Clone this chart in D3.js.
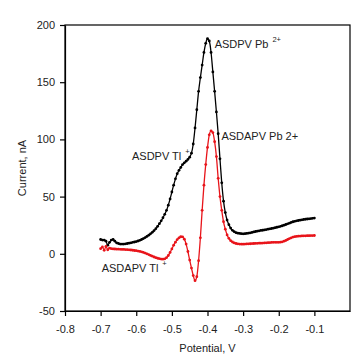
<!DOCTYPE html>
<html><head><meta charset="utf-8">
<script src="https://cdn.jsdelivr.net/npm/d3@7"></script>
<style>
html,body{margin:0;padding:0;background:#fff;}
text{font-family:"Liberation Sans",Arial,sans-serif;}
</style></head>
<body><svg id="c" width="352" height="354"></svg>
<script>
const potentialStart = -0.700;
const potentialStep = 0.005;
const asdpvCurrent = [12.5,12,12,11,7.5,10,12,12.5,11,9.5,9,8.5,8.5,8.5,8.7,9,9.3,9.6,10,10.3,10.7,11.2,11.8,12.5,13.3,14.2,15.2,16.3,17.5,18.8,20.3,22,24,26.3,28.8,31.5,34.5,38,42.5,48,54,60,65.5,70,73,75.5,78,79.5,81,82.5,84.5,88,96,110,126,142,154,165,176,184,188,186,176,159,142,124,105,83,62,46,36,29.5,25.5,22.5,20.5,19.3,18.5,18,17.8,17.6,17.5,17.6,17.8,18,18.3,18.7,19.1,19.5,19.8,20.1,20.4,20.6,20.9,21.2,21.5,21.8,22.1,22.4,22.8,23.2,23.6,24,24.5,25,25.6,26.2,26.8,27.4,28,28.4,28.8,29.1,29.4,29.7,30,30.2,30.4,30.6,30.8,31,31.2];
const asdapvCurrent = [4.5,6,3,6.5,3.5,5,4.5,4.3,4.2,4,4,3.9,3.8,3.8,3.7,3.6,3.5,3.3,3.1,2.9,2.7,2.4,2.1,1.7,1.2,0.6,0,-0.7,-1.4,-2.1,-2.8,-3.4,-3.9,-4.3,-4.6,-4.7,-4.4,-3.4,-1.5,1.2,4.3,7.5,10.2,12.4,14,14.9,14.8,12.8,8.5,2,-5.5,-12.5,-19,-23.5,-20,-6,14,38,60,78,93,104,107.5,106,98,85,66,50,38,28,21.5,16.5,13.5,11.5,10.3,9.5,9,8.7,8.5,8.4,8.4,8.5,8.6,8.7,8.8,8.9,9,9.1,9.2,9.3,9.3,9.4,9.5,9.6,9.7,9.8,9.9,10,10,10,10,10.2,10.5,11,11.7,12.5,13.3,14,14.6,15,15.2,15.4,15.5,15.6,15.7,15.7,15.8,15.8,15.9,15.9,16];
const xTicks = [-0.8,-0.7,-0.6,-0.5,-0.4,-0.3,-0.2,-0.1];
const yTicks = [-50,0,50,100,150,200];
const labels = [
  {text:"ASDPV Pb", sup:"2+", v:-0.380, i:180},
  {text:"ASDAPV Pb 2+", sup:"", v:-0.361, i:99.5},
  {text:"ASDPV Tl", sup:"+", v:-0.612, i:82},
  {text:"ASDAPV Tl", sup:"+", v:-0.697, i:-15.7}
];

const svg = d3.select("#c");
const m = {l:65, r:350, t:25, b:311};
const x = d3.scaleLinear().domain([-0.8,0]).range([m.l,m.r]);
const y = d3.scaleLinear().domain([-50,200]).range([m.b,m.t]);

const mk = arr => arr.map((c,k)=>({v:potentialStart+k*potentialStep, c}));
const seriesList = [
  {data:mk(asdpvCurrent), color:"#000"},
  {data:mk(asdapvCurrent), color:"#e8141a"}
];

svg.append("rect").attr("x",m.l).attr("y",m.t).attr("width",m.r-m.l).attr("height",m.b-m.t)
  .attr("fill","none").attr("stroke","#000").attr("stroke-width",1.2);

const hy = f => d => f(d).replace("\u2212","-");
const xa = svg.append("g").attr("transform",`translate(0,${m.b})`)
  .call(d3.axisBottom(x).tickValues(xTicks).tickFormat(hy(d3.format(".1f"))).tickSize(5).tickPadding(9).tickSizeOuter(0));
const ya = svg.append("g").attr("transform",`translate(${m.l},0)`)
  .call(d3.axisLeft(y).tickValues(yTicks).tickFormat(hy(d3.format("d"))).tickSize(5).tickPadding(5).tickSizeOuter(0));
[xa,ya].forEach(a=>{
  a.selectAll("path").attr("stroke","#000").attr("stroke-width",1.2);
  a.selectAll("line").attr("stroke","#000").attr("stroke-width",1.2);
  a.selectAll("text").attr("font-size",11).attr("fill","#222").attr("font-family","'Liberation Sans',Arial,sans-serif");
});

const line = d3.line().x(d=>x(d.v)).y(d=>y(d.c)).curve(d3.curveMonotoneX);
seriesList.forEach(s=>{
  svg.append("path").datum(s.data).attr("d",line).attr("fill","none")
    .attr("stroke",s.color).attr("stroke-width",1.3);
  svg.append("g").selectAll("circle").data(s.data).join("circle")
    .attr("cx",d=>x(d.v)).attr("cy",d=>y(d.c)).attr("r",1.4).attr("fill",s.color);
});

labels.forEach(l=>{
  const t = svg.append("text").attr("x",x(l.v)).attr("y",y(l.i))
    .attr("font-size",11).attr("fill","#222");
  t.append("tspan").text(l.text);
  if(l.sup){
    t.append("tspan").attr("dx",4).attr("dy",-6).attr("font-size",7.5).text(l.sup);
  }
});

svg.append("text").attr("x",(m.l+m.r)/2).attr("y",352).attr("text-anchor","middle")
  .attr("font-size",11).attr("fill","#222").text("Potential, V");
svg.append("text").attr("transform",`translate(26,${(m.t+m.b)/2}) rotate(-90)`).attr("text-anchor","middle")
  .attr("font-size",11).attr("fill","#222").text("Current, nA");
</script></body></html>
